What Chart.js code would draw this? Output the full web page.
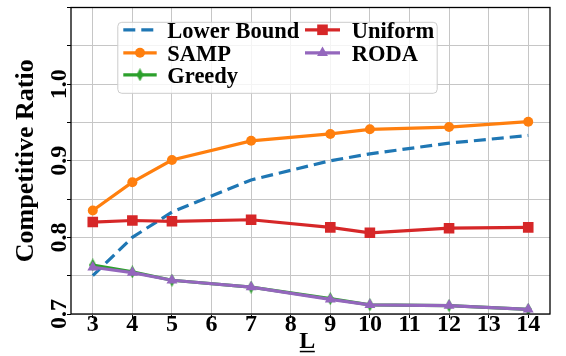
<!DOCTYPE html>
<html>
<head>
<meta charset="utf-8">
<script src="https://cdn.jsdelivr.net/npm/chart.js@4.4.1/dist/chart.umd.min.js"></script>
<style>
  html, body { margin: 0; padding: 0; background: #ffffff; }
  #wrap { width: 566px; height: 356px; }
</style>
</head>
<body>
<div id="wrap"><canvas id="chart" width="566" height="356"></canvas></div>
<script>
// Window length L and the competitive ratio of each policy
const L = [3, 4, 5, 7, 9, 10, 12, 14];
const lowerBound = [0.750, 0.800, 0.833, 0.875, 0.900, 0.909, 0.923, 0.933];
const samp       = [0.835, 0.872, 0.901, 0.926, 0.935, 0.941, 0.944, 0.951];
const greedy     = [0.764, 0.755, 0.744, 0.735, 0.720, 0.712, 0.711, 0.706];
const uniform    = [0.820, 0.822, 0.821, 0.823, 0.813, 0.806, 0.812, 0.813];
const roda       = [0.761, 0.754, 0.744, 0.735, 0.719, 0.712, 0.711, 0.706];

// Axis ticks
const xTicks = [3, 4, 5, 6, 7, 8, 9, 10, 11, 12, 13, 14];
const yTickValues = [0.7, 0.75, 0.8, 0.85, 0.9, 0.95, 1.0, 1.05, 1.1];
const yTickLabels = ['0.7', '', '0.8', '', '0.9', '', '1.0', '', ''];

const SERIF = "'Liberation Serif', 'Times New Roman', serif";

function toPoints(ys) {
  return L.map((x, i) => ({ x: x, y: ys[i] }));
}

// Narrow diamond marker
function thinDiamond(color, w, h) {
  const c = document.createElement('canvas');
  c.width = w; c.height = h;
  const g = c.getContext('2d');
  g.fillStyle = color;
  g.beginPath();
  g.moveTo(w / 2, 0);
  g.lineTo(w, h / 2);
  g.lineTo(w / 2, h);
  g.lineTo(0, h / 2);
  g.closePath();
  g.fill();
  return c;
}

const BLUE = '#1f77b4', ORANGE = '#ff7f0e', GREEN = '#2ca02c', RED = '#d62728', PURPLE = '#9467bd';
const LW = 3.2;

function series(label, ys, color, style, radius, order, dash) {
  return {
    label: label,
    data: toPoints(ys),
    borderColor: color,
    backgroundColor: color,
    borderWidth: LW,
    borderDash: dash || [],
    pointStyle: style,
    pointRadius: radius,
    pointBackgroundColor: color,
    pointBorderColor: color,
    pointBorderWidth: 0,
    pointHoverRadius: radius,
    tension: 0,
    fill: false,
    order: order
  };
}

const datasets = [
  series('Lower Bound', lowerBound, BLUE, 'circle', 0, 5, [12, 6]),
  series('SAMP', samp, ORANGE, 'circle', 5, 4),
  series('Greedy', greedy, GREEN, thinDiamond(GREEN, 7, 13), 6, 3),
  series('Uniform', uniform, RED, 'rect', 7.5, 2),
  series('RODA', roda, PURPLE, 'triangle', 6.3, 1)
];

// Legend laid out in two columns, filled column by column
const legendColumns = [[0, 1, 2], [3, 4]];

function drawMarker(ctx, ds, x, y) {
  const style = ds.pointStyle, r = ds.pointRadius;
  ctx.fillStyle = ds.pointBackgroundColor;
  if (style instanceof HTMLCanvasElement) {
    ctx.drawImage(style, x - style.width / 2, y - style.height / 2);
    return;
  }
  if (!r) return;
  ctx.beginPath();
  if (style === 'circle') {
    ctx.arc(x, y, r, 0, Math.PI * 2);
  } else if (style === 'rect') {
    const s = r * Math.SQRT1_2;
    ctx.rect(x - s, y - s, 2 * s, 2 * s);
  } else if (style === 'triangle') {
    let a = 0;
    ctx.moveTo(x + Math.sin(a) * r, y - Math.cos(a) * r);
    a += 2 * Math.PI / 3;
    ctx.lineTo(x + Math.sin(a) * r, y - Math.cos(a) * r);
    a += 2 * Math.PI / 3;
    ctx.lineTo(x + Math.sin(a) * r, y - Math.cos(a) * r);
    ctx.closePath();
  }
  ctx.fill();
}

function roundRect(ctx, x, y, w, h, r) {
  ctx.beginPath();
  ctx.moveTo(x + r, y);
  ctx.lineTo(x + w - r, y);
  ctx.arcTo(x + w, y, x + w, y + r, r);
  ctx.lineTo(x + w, y + h - r);
  ctx.arcTo(x + w, y + h, x + w - r, y + h, r);
  ctx.lineTo(x + r, y + h);
  ctx.arcTo(x, y + h, x, y + h - r, r);
  ctx.lineTo(x, y + r);
  ctx.arcTo(x, y, x + r, y, r);
  ctx.closePath();
}

const decorations = {
  id: 'decorations',
  afterDraw(chart) {
    const ctx = chart.ctx;
    const a = chart.chartArea;
    ctx.save();

    // frame around the plotting area
    ctx.strokeStyle = '#000000';
    ctx.lineWidth = 1.3;
    ctx.strokeRect(a.left, a.top, a.right - a.left, a.bottom - a.top);

    // legend box
    const bx = a.left + 46.3, by = a.top + 14.3, bw = 319.4, bh = 71;
    roundRect(ctx, bx + 0.5, by + 0.5, bw, bh, 4);
    ctx.fillStyle = 'rgba(255,255,255,0.8)';
    ctx.fill();
    ctx.strokeStyle = '#cccccc';
    ctx.lineWidth = 1;
    ctx.stroke();

    const rows = [8, 31, 53];
    const cols = [{ h0: 6, h1: 39.4, tx: 50 }, { h0: 187.7, h1: 222.7, tx: 234.4 }];
    ctx.font = 'bold 22.5px ' + SERIF;
    ctx.textBaseline = 'middle';
    ctx.textAlign = 'left';
    legendColumns.forEach((col, ci) => {
      col.forEach((di, ri) => {
        const ds = chart.data.datasets[di];
        const y = by + rows[ri];
        const c = cols[ci];
        ctx.beginPath();
        ctx.setLineDash(ds.borderDash || []);
        ctx.lineDashOffset = 0;
        ctx.strokeStyle = ds.borderColor;
        ctx.lineWidth = ds.borderWidth;
        ctx.moveTo(bx + c.h0, y);
        ctx.lineTo(bx + c.h1, y);
        ctx.stroke();
        ctx.setLineDash([]);
        drawMarker(ctx, ds, bx + (c.h0 + c.h1) / 2, y);
        ctx.fillStyle = '#000000';
        ctx.fillText(ds.label, bx + c.tx, y + 2);
      });
    });

    // x-axis title, underlined
    const cx = (a.left + a.right) / 2 - 3.2;
    ctx.font = 'bold 24px ' + SERIF;
    ctx.textAlign = 'center';
    ctx.textBaseline = 'alphabetic';
    ctx.fillStyle = '#000000';
    ctx.fillText('L', cx, 348.3);
    const w = ctx.measureText('L').width;
    ctx.fillRect(cx - w / 2 + 0.5, 350.8, w - 1, 1.5);

    ctx.restore();
  }
};

new Chart(document.getElementById('chart'), {
  type: 'line',
  data: { datasets: datasets },
  options: {
    responsive: false,
    animation: false,
    devicePixelRatio: 1,
    layout: { padding: { left: 0, right: 16, top: 3, bottom: 0 } },
    plugins: {
      legend: { display: false },
      tooltip: { enabled: false }
    },
    scales: {
      x: {
        type: 'linear',
        min: 2.45,
        max: 14.55,
        afterBuildTicks: (scale) => { scale.ticks = xTicks.map(v => ({ value: v })); },
        afterFit: (scale) => { scale.height = 42; },
        ticks: {
          color: '#000000',
          font: { family: SERIF, size: 24, weight: 'bold', lineHeight: 1 },
          padding: -4.8,
          maxRotation: 0,
          autoSkip: false,
          callback: (v) => String(v)
        },
        grid: { color: '#c6c6c6', lineWidth: 1, tickColor: '#000000', tickLength: 4, tickWidth: 1 },
        border: { display: false }
      },
      y: {
        type: 'linear',
        min: 0.7,
        max: 1.1,
        afterBuildTicks: (scale) => { scale.ticks = yTickValues.map(v => ({ value: v })); },
        afterFit: (scale) => { scale.width = 71; },
        ticks: {
          color: '#000000',
          font: { family: SERIF, size: 24, weight: 'bold', lineHeight: 1 },
          minRotation: 90,
          maxRotation: 90,
          crossAlign: 'center',
          padding: -8,
          autoSkip: false,
          callback: (v, i) => yTickLabels[i]
        },
        grid: { color: '#c6c6c6', lineWidth: 1, tickColor: '#000000', tickLength: 4, tickWidth: 1 },
        border: { display: false },
        title: {
          display: true,
          text: 'Competitive Ratio',
          color: '#000000',
          font: { family: SERIF, size: 26, weight: 'bold', lineHeight: 1 },
          padding: { top: 13.2, bottom: 0 }
        }
      }
    }
  },
  plugins: [decorations]
});
</script>
</body>
</html>
